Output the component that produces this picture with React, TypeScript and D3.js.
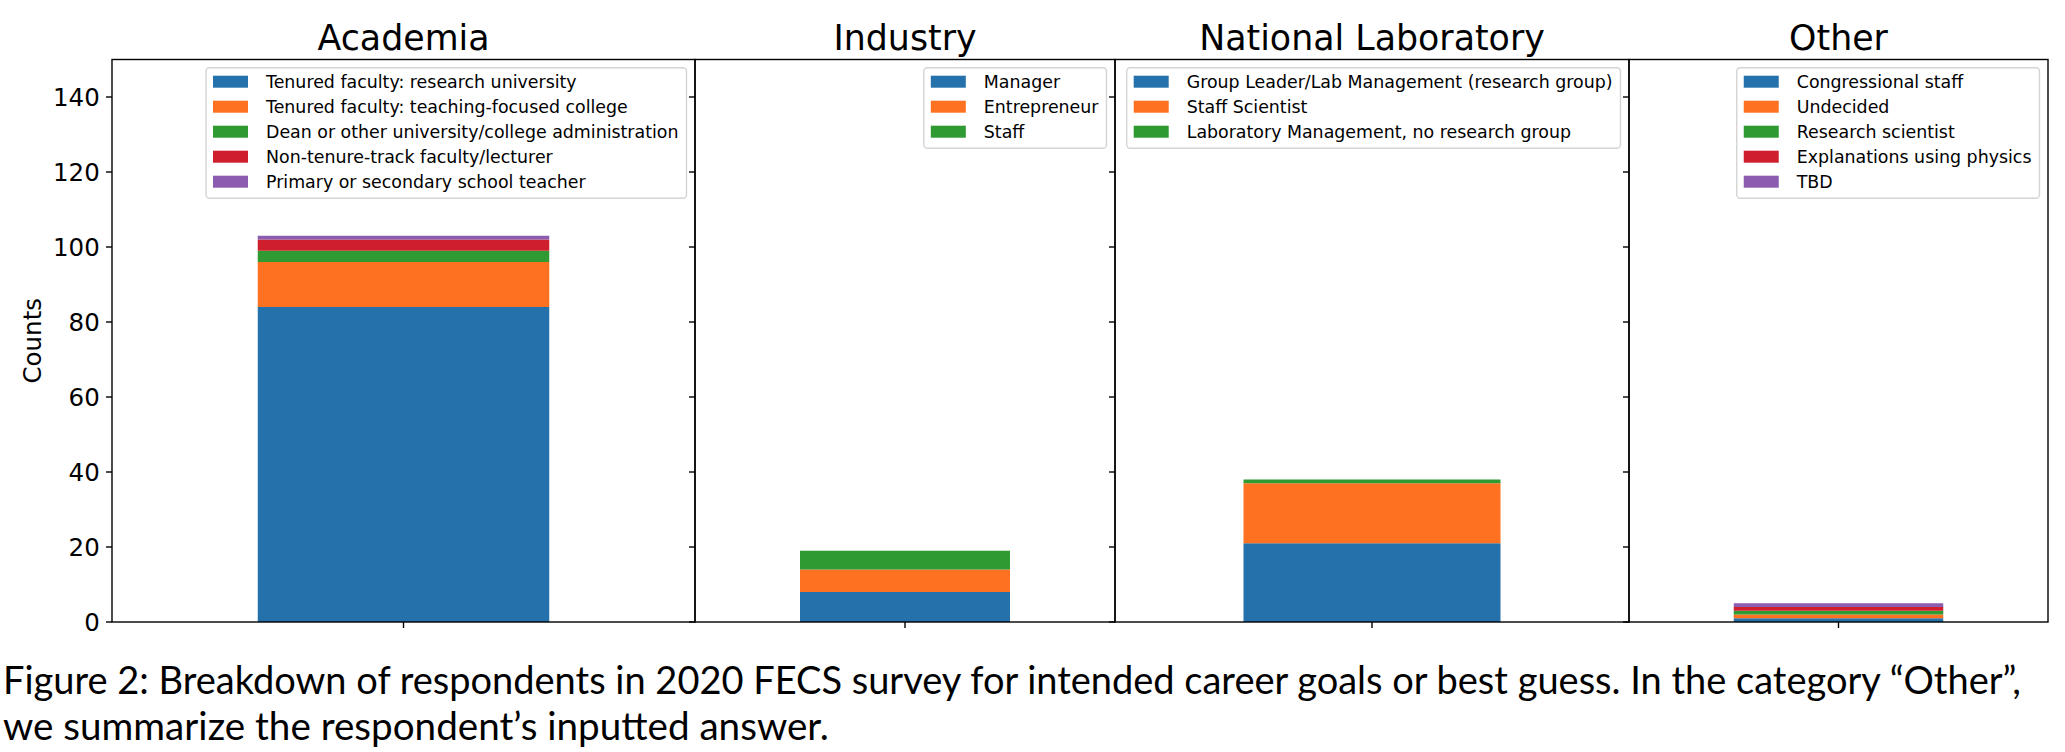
import React, { useLayoutEffect } from "react";
import * as d3 from "d3";

// ---------------- DATA ----------------
const panelTitles = ["Academia", "Industry", "National Laboratory", "Other"];

const academiaLabels = [
  "Tenured faculty: research university",
  "Tenured faculty: teaching-focused college",
  "Dean or other university/college administration",
  "Non-tenure-track faculty/lecturer",
  "Primary or secondary school teacher",
];
const academiaCounts = [84, 12, 3, 3, 1];

const industryLabels = ["Manager", "Entrepreneur", "Staff"];
const industryCounts = [8, 6, 5];

const natLabLabels = [
  "Group Leader/Lab Management (research group)",
  "Staff Scientist",
  "Laboratory Management, no research group",
];
const natLabCounts = [21, 16, 1];

const otherLabels = [
  "Congressional staff",
  "Undecided",
  "Research scientist",
  "Explanations using physics",
  "TBD",
];
const otherCounts = [1, 1, 1, 1, 1];

const yTicks = [0, 20, 40, 60, 80, 100, 120, 140];
const yLabel = "Counts";

const captionLines = [
  "Figure 2: Breakdown of respondents in 2020 FECS survey for intended career goals or best guess. In the category \u201cOther\u201d,",
  "we summarize the respondent\u2019s inputted answer.",
];

const colors = ["#2471ab", "#fd7121", "#2e9a31", "#cf1f2d", "#8c5cb0"];

// ---------------- LAYOUT ----------------
const W = 2065;
const H = 752;
const panelEdges = [112, 695, 1115, 1629, 2048];
const axTop = 59.5;
const axBottom = 622;
const FONT = "DejaVu Sans, sans-serif";
const tickFs = 24.5;
const titleFs = 34.8;
const legFs = 17.4;
const capWidths = [2018, 826];

const measureCtx = (() => {
  try {
    return document.createElement("canvas").getContext("2d");
  } catch (e) {
    return null;
  }
})();
function measure(text: string, font: string, fallbackPerChar: number) {
  if (measureCtx) {
    measureCtx.font = font;
    return measureCtx.measureText(text).width;
  }
  return text.length * fallbackPerChar;
}

const panelsData = [
  { labels: academiaLabels, counts: academiaCounts },
  { labels: industryLabels, counts: industryCounts },
  { labels: natLabLabels, counts: natLabCounts },
  { labels: otherLabels, counts: otherCounts },
];

export default function App() {
  useLayoutEffect(() => {
    document.body.style.margin = "0";
    document.body.style.overflow = "hidden";
  }, []);

  const y = d3.scaleLinear().domain([0, 150]).range([axBottom, axTop]);

  // fit caption font size so its natural width matches the reference width
  const refFs = 37;
  const nat1 = measure(captionLines[0], `${refFs}px Lato`, refFs * 0.5);
  const capFs = Math.min(38.5, (refFs * capWidths[0]) / nat1);

  return (
    <svg
      width={W}
      height={H}
      viewBox={`0 0 ${W} ${H}`}
      style={{ position: "absolute", left: 0, top: 0, background: "#fff" }}
    >
      <rect x={0} y={0} width={W} height={H} fill="#fff" />
      {panelsData.map((p, pi) => {
        const left = panelEdges[pi];
        const right = panelEdges[pi + 1];
        const x = d3.scaleLinear().domain([-0.5, 0.5]).range([left, right]);
        const barW = 0.5;
        const stacked: { y0: number; y1: number; c: string }[] = [];
        let acc = 0;
        p.counts.forEach((v, i) => {
          stacked.push({ y0: acc, y1: acc + v, c: colors[i] });
          acc += v;
        });
        const maxText = d3.max(p.labels, (t) =>
          measure(t, `${legFs}px DejaVu Sans`, legFs * 0.55)
        ) as number;
        const boxW = 60 + maxText + 8;
        const boxRight = right - 8.5;
        const boxLeft = boxRight - boxW;
        const boxTop = axTop + 8.2;
        const rowStep = 25;
        const firstRow = boxTop + 14;
        const boxH = 14 + rowStep * (p.labels.length - 1) + 16.5;
        return (
          <g key={pi}>
            {stacked.map((s, i) => (
              <rect
                key={i}
                x={x(-barW / 2)}
                width={x(barW / 2) - x(-barW / 2)}
                y={y(s.y1)}
                height={y(s.y0) - y(s.y1)}
                fill={s.c}
              />
            ))}
            <rect
              x={left}
              y={axTop}
              width={right - left}
              height={axBottom - axTop}
              fill="none"
              stroke="#000"
              strokeWidth={1.4}
            />
            {yTicks.map((t) => (
              <line
                key={t}
                x1={left - 6}
                x2={left}
                y1={y(t)}
                y2={y(t)}
                stroke="#000"
                strokeWidth={1.4}
              />
            ))}
            {pi === 0 &&
              yTicks.map((t) => (
                <text
                  key={"l" + t}
                  x={left - 12.2}
                  y={y(t) + tickFs * 0.375}
                  textAnchor="end"
                  fontFamily={FONT}
                  fontSize={tickFs}
                  fill="#000"
                >
                  {t}
                </text>
              ))}
            <line
              x1={x(0)}
              x2={x(0)}
              y1={axBottom}
              y2={axBottom + 6}
              stroke="#000"
              strokeWidth={1.4}
            />
            <text
              x={(left + right) / 2}
              y={50}
              textAnchor="middle"
              fontFamily={FONT}
              fontSize={titleFs}
              fill="#000"
            >
              {panelTitles[pi]}
            </text>
            <rect
              x={boxLeft}
              y={boxTop}
              width={boxW}
              height={boxH}
              rx={3.5}
              ry={3.5}
              fill="#fff"
              fillOpacity={0.8}
              stroke="#d4d4d4"
              strokeWidth={1.4}
            />
            {p.labels.map((lab, i) => {
              const cy = firstRow + i * rowStep;
              return (
                <g key={lab}>
                  <rect
                    x={boxLeft + 7}
                    y={cy - 6}
                    width={35}
                    height={12}
                    fill={colors[i]}
                  />
                  <text
                    x={boxLeft + 60}
                    y={cy + legFs * 0.36}
                    fontFamily={FONT}
                    fontSize={legFs}
                    fill="#000"
                  >
                    {lab}
                  </text>
                </g>
              );
            })}
          </g>
        );
      })}
      <text
        transform={`translate(40.5, ${(axTop + axBottom) / 2}) rotate(-90)`}
        textAnchor="middle"
        fontFamily={FONT}
        fontSize={tickFs}
        fill="#000"
      >
        {yLabel}
      </text>
      {captionLines.map((line, i) => (
        <text
          key={i}
          x={3}
          y={694 + i * 46}
          fontFamily="Lato, sans-serif"
          fontSize={capFs}
          fill="#000"
          textLength={capWidths[i]}
          lengthAdjust="spacingAndGlyphs"
        >
          {line}
        </text>
      ))}
    </svg>
  );
}
